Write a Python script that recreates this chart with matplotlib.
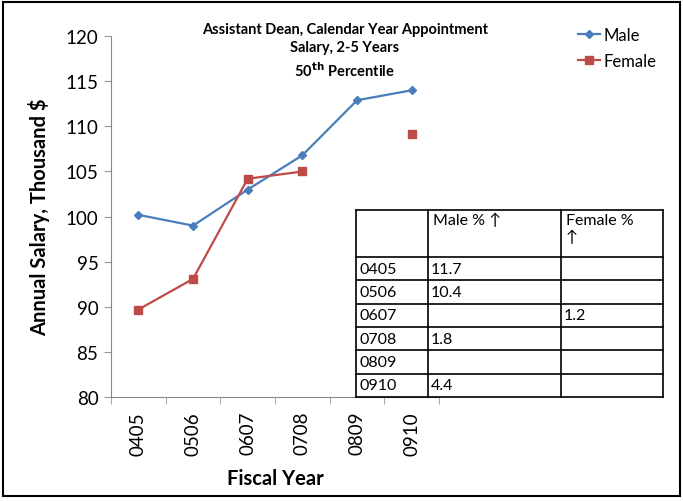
import matplotlib
matplotlib.use('Agg')
import matplotlib.pyplot as plt
import numpy as np
from matplotlib.patches import Rectangle

years = ['0405', '0506', '0607', '0708', '0809', '0910']
male = [100.2, 99.0, 103.0, 106.8, 112.9, 114.0]
female = [89.7, 93.1, 104.2, 105.0, np.nan, 109.2]

table_header = ['', 'Male % \u2191', 'Female %\n\u2191']
male_pct = ['11.7', '10.4', '', '1.8', '', '4.4']
female_pct = ['', '', '1.2', '', '', '']

plt.rcParams['font.family'] = ['Lato', 'DejaVu Sans']

fig = plt.figure(figsize=(6.83, 5.02), dpi=100)
ax = fig.add_axes([0.1625, 0.207, 0.4805, 0.719])

x = np.arange(len(years))
ax.plot(x, male, color='#4A7EBB', lw=1.6, marker='D', ms=4, label='Male')
ax.plot(x, female, color='#BE4B48', lw=1.6, marker='s', ms=5.5, label='Female')

ax.set_xlim(-0.5, len(years) - 0.5)
ax.set_ylim(80, 120)
ax.set_yticks(np.arange(80, 121, 5))
ax.set_xticks(x)
ax.set_xticklabels(years, rotation=90, fontsize=13.5)
ax.set_xticks(np.arange(-0.5, len(years), 1), minor=True)
ax.tick_params(axis='x', which='major', length=0, pad=10)
ax.tick_params(axis='x', which='minor', length=5, color='#999999')
ax.tick_params(axis='y', labelsize=13.5, length=5, color='#999999', pad=4)
for s in ['top', 'right']:
    ax.spines[s].set_visible(False)
for s in ['left', 'bottom']:
    ax.spines[s].set_color('#888888')

ax.set_ylabel('Annual Salary, Thousand $', fontsize=14.5, fontweight='bold', labelpad=11)
ax.set_xlabel('Fiscal Year', fontsize=14.5, fontweight='bold', labelpad=10)

fig.text(0.505, 0.955, 'Assistant Dean, Calendar Year Appointment\nSalary, 2-5 Years\n50$^{\\mathbf{th}}$ Percentile',
         ha='center', va='top', fontsize=10.5, fontweight='bold', linespacing=1.4)

fig.legend(loc='upper left', bbox_to_anchor=(0.825, 0.975), frameon=False, fontsize=12,
           handlelength=1.3, handletextpad=0.2, labelspacing=0.6)

# data table
tab = fig.add_axes([0, 0, 1, 1], facecolor='none')
tab.set_xlim(0, 683)
tab.set_ylim(502, 0)
tab.axis('off')
cols = [356, 428, 561, 663]
rows = [211, 258] + [258 + 23.3 * (i + 1) for i in range(len(years))]
tab.add_patch(Rectangle((cols[0], rows[0]), cols[-1] - cols[0], rows[-1] - rows[0],
                        facecolor='white', edgecolor='none', zorder=1))
for cx in cols:
    tab.plot([cx, cx], [rows[0], rows[-1]], color='black', lw=1.2, zorder=2)
for ry in rows:
    tab.plot([cols[0], cols[-1]], [ry, ry], color='black', lw=1.2, zorder=2)
for j, h in enumerate(table_header):
    tab.text(cols[j] + 5, rows[0] + 3, h, fontsize=11.5, va='top', ha='left', linespacing=1.3, zorder=3)
for i, yr in enumerate(years):
    yc = (rows[i + 1] + rows[i + 2]) / 2
    for j, v in enumerate([yr, male_pct[i], female_pct[i]]):
        tab.text(cols[j] + 3, yc, v, fontsize=11.5, va='center', ha='left', zorder=3)

tab.add_patch(Rectangle((3, 3), 677, 494, facecolor='none', edgecolor='black', lw=1.5))

fig.savefig('out.png', dpi=100)
